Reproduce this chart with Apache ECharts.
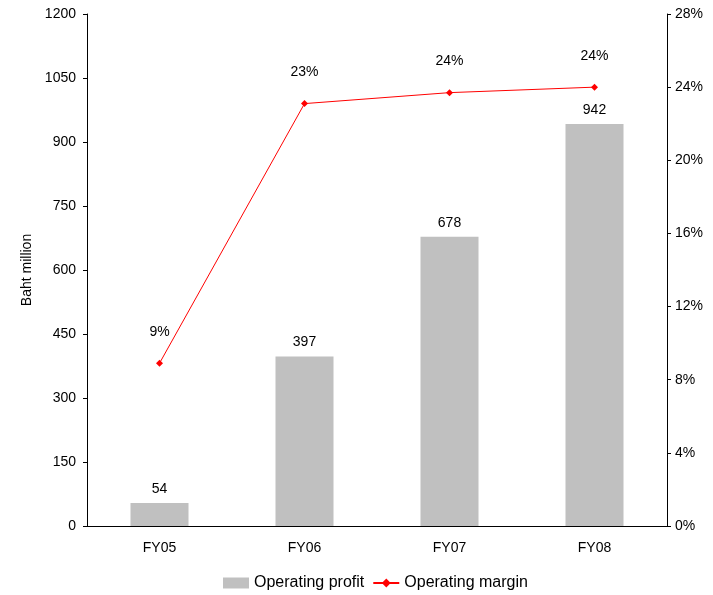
<!DOCTYPE html>
<html>
<head>
<meta charset="utf-8">
<script src="https://cdn.jsdelivr.net/npm/echarts@6/dist/echarts.min.js"></script>
<style>
  html, body { margin: 0; padding: 0; background: #fff; }
  #main { width: 713px; height: 595px; }
</style>
</head>
<body>
<div id="main"></div>
<script>
  var years = ['FY05', 'FY06', 'FY07', 'FY08'];
  var profit = [54, 397, 678, 942];
  var margin = [8.9, 23.1, 23.7, 24.0];
  var marginLabels = ['9%', '23%', '24%', '24%'];

  var myChart = echarts.init(document.getElementById('main'));
  var font = 'Liberation Sans, Arial, sans-serif';

  var option = {
    animation: false,
    textStyle: { fontFamily: font },
    grid: { left: 87, right: 46, top: 14, bottom: 69 },
    legend: {
      left: 218,
      top: 570,
      itemGap: 8,
      itemWidth: 26,
      itemHeight: 11,
      textStyle: { fontSize: 16, color: '#000', fontFamily: font },
      data: [
        { name: 'Operating profit', icon: 'rect' },
        { name: 'Operating margin' }
      ]
    },
    xAxis: {
      type: 'category',
      data: years,
      axisLine: { lineStyle: { color: '#000' } },
      axisTick: { alignWithLabel: false, length: 5, lineStyle: { color: '#000' } },
      axisLabel: { color: '#000', fontSize: 14, margin: 15 }
    },
    yAxis: [{
      type: 'value',
      min: 0, max: 1200, interval: 150,
      name: 'Baht million',
      nameLocation: 'middle',
      nameGap: 48,
      nameTextStyle: { color: '#000', fontSize: 14 },
      axisLine: { show: true, lineStyle: { color: '#000' } },
      axisTick: { show: true, length: 4, lineStyle: { color: '#000' } },
      axisLabel: { color: '#000', fontSize: 14, margin: 11, formatter: function (v) { return String(v); } },
      splitLine: { show: false }
    }, {
      type: 'value',
      min: 0, max: 28, interval: 4,
      position: 'right',
      axisLine: { show: true, lineStyle: { color: '#000' } },
      axisTick: { show: true, length: 4, lineStyle: { color: '#000' } },
      axisLabel: { color: '#000', fontSize: 14, margin: 8, formatter: '{value}%' },
      splitLine: { show: false }
    }],
    series: [{
      name: 'Operating profit',
      type: 'bar',
      data: profit,
      barWidth: '40%',
      itemStyle: { color: '#C0C0C0' },
      label: { show: true, position: 'top', distance: 7, color: '#000', fontSize: 14 }
    }, {
      name: 'Operating margin',
      type: 'line',
      yAxisIndex: 1,
      data: margin,
      symbol: 'diamond',
      symbolSize: 7,
      lineStyle: { color: '#FF0000', width: 1 },
      itemStyle: { color: '#FF0000' },
      label: {
        show: true, position: 'top', distance: 21, color: '#000', fontSize: 14,
        formatter: function (p) { return marginLabels[p.dataIndex]; }
      }
    }]
  };

  myChart.setOption(option);
</script>
</body>
</html>
